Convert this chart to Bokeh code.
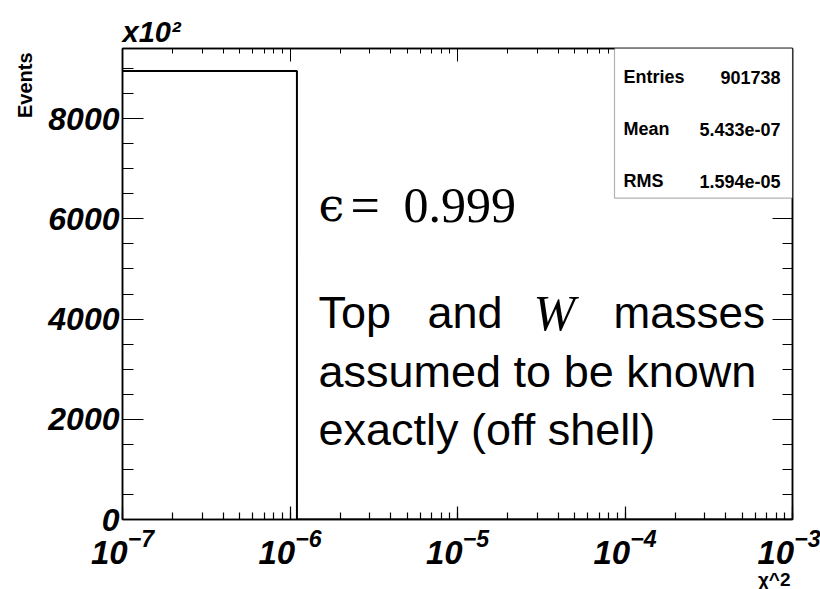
import math
from bokeh.plotting import figure
from bokeh.models import (Range1d, LogAxis, LinearAxis, LogTicker, SingleIntervalTicker,
                          CustomJSTickFormatter, Label, BoxAnnotation, Title)
from bokeh.embed import file_html
from bokeh.resources import INLINE

# ---------------- data ----------------
bin_edges = [1e-7, 1.1e-6, 1e-3]      # chi^2 bin edges shown on the axis
bin_counts = [8950, 0]                # events (x10^2)
x_limits = [1e-7, 1e-3]
y_limits = [0, 9400]
y_major_interval = 2000
stat_names = ["Entries", "Mean", "RMS"]
entries = 901738
mean_val = 5.433e-07
rms_val = 1.594e-05
stat_values = [f"{entries}", f"{mean_val:.3e}", f"{rms_val:.3e}"]

# ---------------- figure ----------------
W, H = 820, 589
p = figure(width=W, height=H, x_axis_type="log",
           x_range=Range1d(*x_limits), y_range=Range1d(*y_limits),
           output_backend="svg", toolbar_location=None,
           min_border_left=122, min_border_right=28, min_border_top=48, min_border_bottom=69)
p.background_fill_color = "white"
p.border_fill_color = "white"
p.xgrid.visible = False
p.ygrid.visible = False
p.outline_line_color = "black"
p.outline_line_width = 1.5

FONT = "Liberation Sans"

xa = p.xaxis[0]
xa.ticker = LogTicker(num_minor_ticks=10)
xa.major_tick_in = 13
xa.major_tick_out = 0
xa.minor_tick_in = 7
xa.minor_tick_out = 0
xa.axis_line_width = 1.5
xa.major_tick_line_width = 1.2
xa.minor_tick_line_width = 1.2
xa.major_label_text_font = FONT
xa.major_label_text_font_style = "bold italic"
xa.major_label_text_font_size = "33px"
xa.major_label_text_color = "black"
xa.major_label_standoff = 9

ya = p.yaxis[0]
ya.ticker = SingleIntervalTicker(interval=y_major_interval, num_minor_ticks=4)
ya.major_tick_in = 21
ya.major_tick_out = 0
ya.minor_tick_in = 11
ya.minor_tick_out = 0
ya.axis_line_width = 1.5
ya.major_tick_line_width = 1.2
ya.minor_tick_line_width = 1.2
ya.major_label_text_font = FONT
ya.major_label_text_font_style = "bold italic"
ya.major_label_text_font_size = "32px"
ya.major_label_text_color = "black"
ya.major_label_standoff = 3

top = LogAxis(ticker=LogTicker(num_minor_ticks=10), formatter=CustomJSTickFormatter(code="return ''"),
              major_tick_in=13, major_tick_out=0, minor_tick_in=5, minor_tick_out=0,
              axis_line_width=1.5, major_label_standoff=0, major_label_text_font_size="1px")
p.add_layout(top, "above")
right = LinearAxis(ticker=SingleIntervalTicker(interval=y_major_interval, num_minor_ticks=4),
                   formatter=CustomJSTickFormatter(code="return ''"),
                   major_tick_in=20, major_tick_out=0, minor_tick_in=10, minor_tick_out=0,
                   axis_line_width=1.5, major_label_standoff=0, major_label_text_font_size="1px")
p.add_layout(right, "right")

# axis titles (outside the frame)
p.add_layout(Title(text="x10\u00b2", align="left", offset=0, standoff=1, text_font=FONT,
                   text_font_style="bold italic", text_font_size="29px", text_color="black"), "above")
p.add_layout(Title(text="Events", align="right", offset=4, standoff=20, text_font=FONT,
                   text_font_style="bold", text_font_size="20px", text_color="black"), "left")
p.add_layout(Title(text="\u03c7^2", align="right", offset=2, standoff=0, text_font=FONT,
                   text_font_style="bold", text_font_size="19px", text_color="black"), "below")

# histogram outline
p.step(x=bin_edges, y=bin_counts + [0], mode="after", line_color="black", line_width=2)

# ---------------- annotations (positions in reference pixels) ----------------
FL, FR, FT, FB = 122, 792, 48, 520
lx0, lx1 = math.log10(x_limits[0]), math.log10(x_limits[1])


def X(px):
    return 10 ** (lx0 + (lx1 - lx0) * (px - FL) / (FR - FL))


def Y(py):
    return y_limits[0] + (y_limits[1] - y_limits[0]) * (FB - py) / (FB - FT)


def lab(text, px, py, size, font=FONT, style="normal", align="left", baseline="alphabetic"):
    p.add_layout(Label(x=X(px), y=Y(py), text=text, text_font=font, text_font_style=style,
                       text_font_size=f"{size}px", text_align=align, text_baseline=baseline,
                       text_color="black"))


# stats box
p.add_layout(BoxAnnotation(left=X(614), right=X(792), top=Y(47), bottom=Y(198),
                           fill_color="white", fill_alpha=1.0, line_color="black", line_width=1.2))
for name, val, py in zip(stat_names, stat_values, [77, 129, 181]):
    lab(name, 623, py, 18, style="bold")
    lab(val, 780, py, 18, style="bold", align="right")

# text annotations
lab("\u03f5", 318, 205, 46, font="DejaVu Serif")
lab("=", 350, 205, 52, font="Liberation Serif")
lab("0.999", 403, 205, 50, font="Liberation Serif")

lab("Top", 318, 313, 45)
lab("and", 427, 313, 45)
lab("W", 533, 313, 50, font="Liberation Serif", style="italic")
lab("masses", 613, 313, 44)
lab("assumed to be known", 318, 372, 45)
lab("exactly (off shell)", 318, 430, 45)

open("out.html", "w").write(file_html(p, INLINE))
